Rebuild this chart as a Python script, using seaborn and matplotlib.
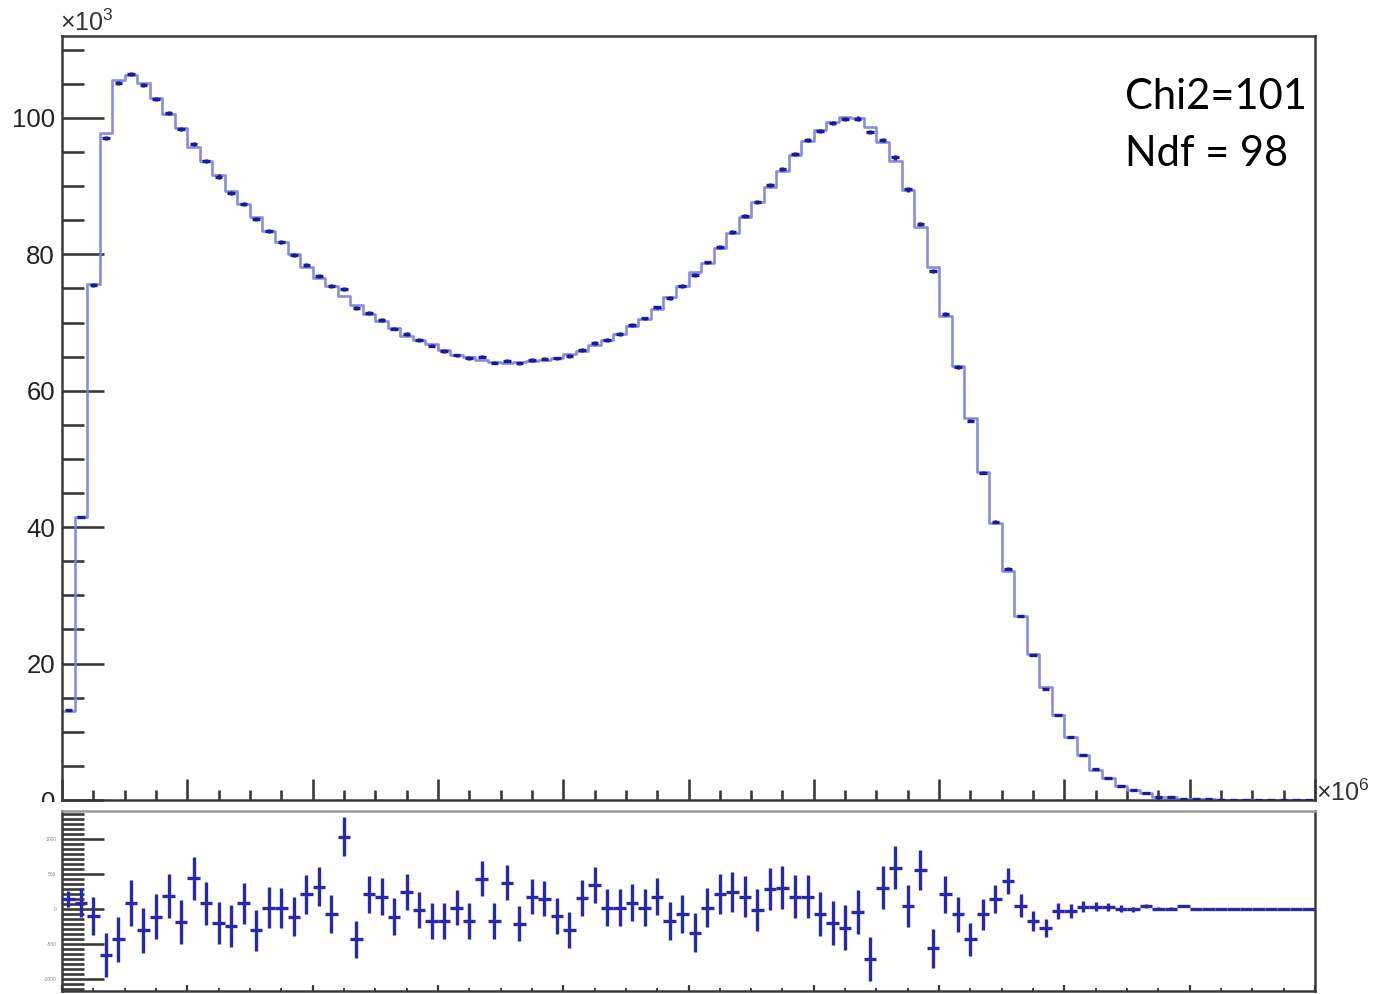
import numpy as np
import pandas as pd
import matplotlib
matplotlib.use("Agg")
import matplotlib.pyplot as plt
from matplotlib.ticker import MultipleLocator, FixedLocator, NullFormatter
from matplotlib.patches import Rectangle
import seaborn as sns

# Bin contents (thousands of entries) for the 100 bins
counts_k = [
    13.2, 41.5, 75.5, 97.1, 105.1, 106.4, 104.8, 102.8, 100.7, 98.4,
    96.2, 93.7, 91.4, 89.0, 87.4, 85.2, 83.4, 81.8, 79.9, 78.4,
    76.8, 75.3, 74.9, 72.1, 71.4, 70.4, 69.1, 68.3, 67.4, 66.6,
    65.8, 65.2, 64.8, 65.0, 64.1, 64.4, 64.0, 64.5, 64.7, 64.75,
    65.1, 66.0, 67.0, 67.4, 68.3, 69.6, 70.6, 72.2, 73.6, 75.3,
    77.0, 78.8, 81.1, 83.3, 85.6, 87.7, 90.2, 92.5, 94.7, 96.8,
    98.1, 99.2, 99.85, 99.9, 97.9, 96.8, 94.2, 89.5, 84.5, 77.6,
    71.2, 63.5, 55.6, 48.0, 40.8, 33.9, 27.0, 21.2, 16.3, 12.5,
    9.2, 6.6, 4.5, 3.2, 2.0, 1.4, 1.0, 0.5, 0.4, 0.2,
    0.12, 0.08, 0.05, 0.04, 0.03, 0.02, 0.02, 0.02, 0.02, 0.02,
]

# Data minus fit, in entries
residuals = [
    133, 86, -106, -667, -439, 76, -310, -114, 180, -186,
    433, 76, -210, -248, 76, -310, 14, 14, -114, 204,
    314, -81, 1029, -439, 204, 171, -114, 237, -20, -177,
    -177, 14, -177, 429, -177, 371, -214, 171, 143, -106,
    -305, 147, 333, 14, 14, 86, 14, 171, -177, -81,
    -343, 14, 204, 237, 171, -20, 276, 300, 171, 171,
    -81, -210, -271, -49, -724, 300, 586, 38, 552, -567,
    204, -81, -439, -81, 133, 395, 38, -177, -271, -34,
    -34, 29, 29, 29, 0, -10, 38, 0, 0, 38,
    -10, -10, 0, 0, 0, 0, 0, 0, 0, 0,
]

fit_text = ["Chi2=101", "Ndf = 98"]
main_ytick_values = [0, 20, 40, 60, 80, 100]
resid_ytick_values = [-1000, -500, 0, 500, 1000]

counts_k = np.array(counts_k)
residuals = np.array(residuals, dtype=float)
entries = counts_k * 1000.0
fit_k = counts_k - residuals / 1000.0
stat_err = np.sqrt(entries)

n_bins = len(counts_k)
edges = np.linspace(0.0, 5.0, n_bins + 1)
centers = 0.5 * (edges[:-1] + edges[1:])
bw = edges[1] - edges[0]
fit_df = pd.DataFrame({"x": centers, "w": fit_k})

sns.set_theme(style="white")
plt.rcParams["font.family"] = ["Liberation Sans", "DejaVu Sans"]
plt.rcParams["mathtext.fontset"] = "custom"
plt.rcParams["mathtext.rm"] = "Liberation Sans"
plt.rcParams["mathtext.it"] = "Liberation Sans"

W, H = 1377, 994
fig = plt.figure(figsize=(W / 100, H / 100), dpi=100)
fig.patch.set_facecolor("white")

def fx(px):
    return px / W

def fy(py):
    return 1 - py / H

ax = fig.add_axes([fx(62), fy(800), fx(1315) - fx(62), fy(36) - fy(800)])
ax2 = fig.add_axes([fx(62), fy(991), fx(1315) - fx(62), fy(811) - fy(991)])
ax.set_zorder(0)
ax2.set_zorder(2)

light = "#7f7fdc"
dark = "#1a1a9e"
frame = "#3a3a3a"

# fit histogram as a step outline
sns.histplot(data=fit_df, x="x", weights="w", bins=list(edges), element="step",
             fill=False, color=light, linewidth=1.9, alpha=0.9, ax=ax, zorder=2)
# data points
ax.errorbar(centers, counts_k, xerr=0.3 * bw, yerr=stat_err / 1000.0,
            fmt="none", ecolor=dark, elinewidth=2.4, capsize=0, zorder=3)

ax.set_xlim(edges[0], edges[-1])
ax.set_ylim(0, 112)
ax.set_xlabel("")
ax.set_ylabel("")
ax.xaxis.set_major_locator(MultipleLocator(10 * bw))
ax.xaxis.set_minor_locator(MultipleLocator(2.5 * bw))
ax.xaxis.set_major_formatter(NullFormatter())
ax.yaxis.set_major_locator(FixedLocator(main_ytick_values))
ax.yaxis.set_minor_locator(MultipleLocator(5))
ax.set_yticklabels([str(v) for v in main_ytick_values])
ax.tick_params(axis="y", which="major", direction="in", length=30, width=1.9,
               color=frame, labelsize=18.5, labelcolor="#222222", pad=5, left=True)
ax.tick_params(axis="y", which="minor", direction="in", length=15.5, width=1.9,
               color=frame, left=True)
ax.tick_params(axis="x", which="major", direction="in", length=15, width=1.9,
               color=frame, bottom=True)
ax.tick_params(axis="x", which="minor", direction="in", length=7.5, width=1.9,
               color=frame, bottom=True)
for s in ax.spines.values():
    s.set_color(frame)
    s.set_linewidth(1.8)
    s.set_visible(True)

# lower panel: residuals
ax2.errorbar(centers, residuals, xerr=bw / 2, yerr=stat_err, fmt="none",
             ecolor="#2828ac", elinewidth=2.4, capsize=0, zorder=3)
ax2.set_xlim(edges[0], edges[-1])
ax2.set_ylim(-1177, 1394)
ax2.xaxis.set_major_locator(MultipleLocator(10 * bw))
ax2.xaxis.set_minor_locator(MultipleLocator(2.5 * bw))
ax2.xaxis.set_major_formatter(NullFormatter())
ax2.yaxis.set_major_locator(FixedLocator(resid_ytick_values))
ax2.yaxis.set_minor_locator(MultipleLocator(500 / 7))
ax2.set_yticklabels([str(v) for v in resid_ytick_values])
ax2.tick_params(axis="y", which="major", direction="in", length=30, width=1.9,
                color=frame, labelsize=3.5, labelcolor="#888888", pad=4, left=True)
ax2.tick_params(axis="y", which="minor", direction="in", length=15.5, width=1.9,
                color=frame, left=True)
ax2.tick_params(axis="x", which="major", direction="in", length=4, width=1.6,
                color=frame, bottom=True)
ax2.tick_params(axis="x", which="minor", direction="in", length=2, width=1.4,
                color=frame, bottom=True)
for name, s in ax2.spines.items():
    s.set_visible(True)
    s.set_linewidth(1.8)
    s.set_color("#9a9a9a" if name == "top" else frame)

# lower pad background hides the bottom of the main pad's labels
fig.patches.append(Rectangle((0, 0), 1, fy(802), transform=fig.transFigure,
                             facecolor="white", edgecolor="none", zorder=1))

fig.text(fx(60), fy(31), r"$\times$10$^{3}$", fontsize=18, color="#333333",
         ha="left", va="baseline")
fig.text(fx(1316), fy(801), r"$\times$10$^{6}$", fontsize=18, color="#333333",
         ha="left", va="baseline", zorder=3)

fig.text(fx(1125), fy(109), fit_text[0], fontsize=30, family="Lato",
         color="black", ha="left", va="baseline", zorder=3)
fig.text(fx(1125), fy(166), fit_text[1], fontsize=30, family="Lato",
         color="black", ha="left", va="baseline", zorder=3)

fig.savefig("out.png", dpi=100, facecolor="white")
